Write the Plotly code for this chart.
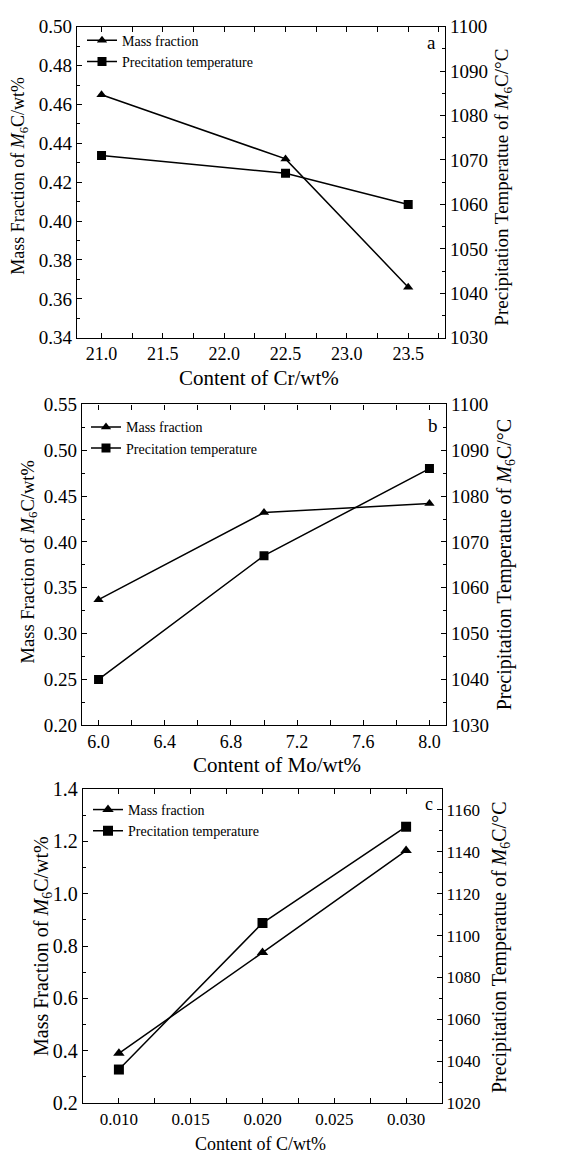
import plotly.graph_objects as go

W, H = 584, 1167

# ---- data ----
cr = [21.0, 22.5, 23.5]
cr_mass = [0.465, 0.432, 0.366]
cr_temp = [1071, 1067, 1060]

mo = [6.0, 7.0, 8.0]
mo_mass = [0.337, 0.432, 0.442]
mo_temp = [1040, 1067, 1086]

c = [0.010, 0.020, 0.030]
c_mass = [0.39, 0.775, 1.165]
c_temp = [1036, 1106, 1152]

FONT = "Liberation Serif"

def px(x):
    return x / W

def py(y):
    return 1 - y / H

fig = go.Figure()

panels = [
    dict(x=cr, m=cr_mass, t=cr_temp, xa="x", ya="y", ya2="y2", leg="legend"),
    dict(x=mo, m=mo_mass, t=mo_temp, xa="x2", ya="y3", ya2="y4", leg="legend2"),
    dict(x=c, m=c_mass, t=c_temp, xa="x3", ya="y5", ya2="y6", leg="legend3"),
]
msize = [9, 9, 10]
for i, p in enumerate(panels):
    fig.add_trace(go.Scatter(x=p["x"], y=p["m"], mode="lines+markers", name="Mass fraction",
                             line=dict(color="black", width=1.5),
                             marker=dict(symbol="triangle-up", size=msize[i], color="black"),
                             xaxis=p["xa"], yaxis=p["ya"], legend=p["leg"]))
    fig.add_trace(go.Scatter(x=p["x"], y=p["t"], mode="lines+markers", name="Precitation temperature",
                             line=dict(color="black", width=1.5),
                             marker=dict(symbol="square", size=msize[i], color="black"),
                             xaxis=p["xa"], yaxis=p["ya2"], legend=p["leg"]))

def xax(dom, rng, dtick, fmt, anchor, fs):
    return dict(domain=dom, range=rng, anchor=anchor, dtick=dtick, tick0=0, tickformat=fmt,
                showline=True, linecolor="black", linewidth=1.3, mirror="allticks",
                ticks="inside", ticklen=5, tickcolor="black", showgrid=False, zeroline=False,
                minor=dict(dtick=dtick / 2, ticks="inside", ticklen=3, tickcolor="black", showgrid=False),
                tickfont=dict(family=FONT, size=fs, color="black"))

def yax(dom, rng, dtick, fmt, anchor, fs, side="left", overlay=None):
    d = dict(domain=dom, range=rng, anchor=anchor, dtick=dtick, tick0=0, tickformat=fmt, side=side,
             showline=True, linecolor="black", linewidth=1.3, mirror=False,
             ticks="inside", ticklen=5, tickcolor="black", showgrid=False, zeroline=False,
             minor=dict(dtick=dtick / 2, ticks="inside", ticklen=3, tickcolor="black", showgrid=False),
             tickfont=dict(family=FONT, size=fs, color="black"))
    if overlay:
        d["overlaying"] = overlay
    return d

# domains from pixel geometry
da_x = [px(77), px(445)]; da_y = [py(333), py(16)]
db_x = [px(82), px(446)]; db_y = [py(728), py(401)]
dc_x = [px(83), px(442)]; dc_y = [py(1113), py(793)]

fig.update_layout(
    width=W, height=H, margin=dict(l=0, r=0, t=0, b=0),
    paper_bgcolor="white", plot_bgcolor="white",
    xaxis=xax(da_x, [20.8, 23.8], 0.5, ".1f", "y", 18),
    yaxis=yax(da_y, [0.34, 0.50], 0.02, ".2f", "x", 19),
    yaxis2=yax(da_y, [1030, 1100], 10, "d", "x", 19, side="right", overlay="y"),
    xaxis2=xax(db_x, [5.9, 8.1], 0.4, ".1f", "y3", 18),
    yaxis3=yax(db_y, [0.20, 0.55], 0.05, ".2f", "x2", 19),
    yaxis4=yax(db_y, [1030, 1100], 10, "d", "x2", 19, side="right", overlay="y3"),
    xaxis3=xax(dc_x, [0.0075, 0.0325], 0.005, ".3f", "y5", 17),
    yaxis5=yax(dc_y, [0.2, 1.4], 0.2, ".1f", "x3", 20),
    yaxis6=yax(dc_y, [1020, 1170], 20, "d", "x3", 17, side="right", overlay="y5"),
)

legstyle = dict(xanchor="left", yanchor="top", bgcolor="rgba(0,0,0,0)", tracegroupgap=0,
                font=dict(family=FONT, size=14, color="black"), itemwidth=30)
fig.update_layout(
    legend=dict(x=px(82), y=py(14), **legstyle),
    legend2=dict(x=px(86), y=py(408), **legstyle),
    legend3=dict(x=px(88), y=py(798), **legstyle),
)

ylab = "Mass Fraction of <i>M</i><sub>6</sub>C/wt%"
y2lab = "Precipitation Temperatue of <i>M</i><sub>6</sub>C/°C"

annots = [
    # panel a
    ("a", 431, 32, 0, 19),
    ("Content of Cr/wt%", 259, 374, 0, 21),
    (ylab, 20, 168, -90, 18),
    (y2lab, 503, 179, -90, 19),
    # panel b
    ("b", 433, 422, 0, 19),
    ("Content of Mo/wt%", 277, 768, 0, 21),
    (ylab, 29, 562, -90, 18.5),
    (y2lab, 505, 564, -90, 20),
    # panel c
    ("c", 429, 808, 0, 18),
    ("Content of C/wt%", 260, 1155, 0, 18),
    (ylab, 42, 953, -90, 20),
    (y2lab, 500, 954, -90, 20),
]
for text, x, y, ang, fs in annots:
    fig.add_annotation(text=text, x=px(x), y=py(y), xref="paper", yref="paper",
                       xanchor="center", yanchor="middle", showarrow=False, textangle=ang,
                       font=dict(family=FONT, size=fs, color="black"))

fig.write_html("out.html")
